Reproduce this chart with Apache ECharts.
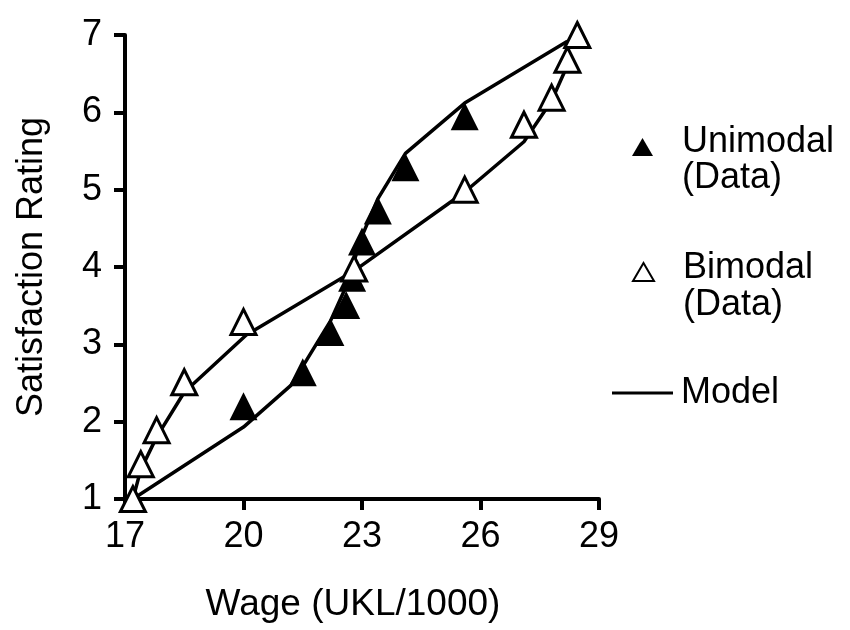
<!DOCTYPE html>
<html><head><meta charset="utf-8">
<script src="https://cdn.jsdelivr.net/npm/echarts@6/dist/echarts.min.js"></script>
<style>html,body{margin:0;padding:0;background:#fff}#c{width:850px;height:630px}</style>
</head><body><div id="c"></div>
<script>
// ---- data ----
const xTicks = [17, 20, 23, 26, 29];
const yTicks = [1, 2, 3, 4, 5, 6, 7];
const seriesNames = ['Unimodal (Data)', 'Bimodal (Data)', 'Model'];

const unimodalWage   = [17.2, 20.0, 21.5, 22.2, 22.6, 22.75, 23.0, 23.4, 24.1, 25.6, 28.45];
const unimodalRating = [1.0,  2.2,  2.64, 3.16, 3.51, 3.86,  4.33, 4.73, 5.29, 5.95, 7.0];

const bimodalWage    = [17.2, 17.4, 17.8, 18.5, 20.0, 22.8, 25.6, 27.1, 27.8, 28.2, 28.45];
const bimodalRating  = [1.0,  1.45, 1.89, 2.51, 3.29, 3.98, 5.0,  5.84, 6.19, 6.68, 7.0];

const uniModelWage   = [17.2, 20.0, 21.2, 21.6, 22.2, 22.6, 23.0, 23.4, 24.1, 25.6, 28.2];
const uniModelRating = [1.0,  1.93, 2.47, 2.8,  3.3,  3.75, 4.4,  4.88, 5.47, 6.12, 6.92];

const biModelWage    = [17.2, 17.4, 17.8, 18.5, 20.07, 22.8, 25.6, 27.1, 27.8, 28.15, 28.2];
const biModelRating  = [1.0,  1.38, 1.8,  2.38, 3.12,  3.95, 4.97, 5.62, 6.15, 6.55,  6.92];

// ---- chart ----
const FONT = '"Liberation Sans", Arial, Helvetica, sans-serif';
const zip = (a, b) => a.map((v, i) => [v, b[i]]);
const twoLine = n => '{s| }\n{a|' + n.replace(' (', '}\n{a|(') + '}';

const chart = echarts.init(document.getElementById('c'), null, { renderer: 'canvas' });
chart.setOption({
  animation: false,
  backgroundColor: '#fff',
  textStyle: { fontFamily: FONT, color: '#000' },
  grid: { left: 125, right: 251, top: 35, bottom: 131, containLabel: false },
  xAxis: {
    type: 'value', min: xTicks[0], max: xTicks[xTicks.length - 1],
    axisLine: { onZero: false, lineStyle: { color: '#000', width: 4 } },
    axisTick: { customValues: xTicks, length: 11, lineStyle: { color: '#000', width: 4 } },
    axisLabel: { customValues: xTicks, margin: 20, fontSize: 36, color: '#000', fontFamily: FONT },
    splitLine: { show: false },
    name: 'Wage (UKL/1000)', nameLocation: 'middle', nameGap: 87,
    nameTextStyle: { fontSize: 37, color: '#000', fontFamily: FONT, padding: [0, 18, 0, 0] }
  },
  yAxis: {
    type: 'value', min: yTicks[0], max: yTicks[yTicks.length - 1], interval: 1,
    axisLine: { onZero: false, lineStyle: { color: '#000', width: 4 } },
    axisTick: { length: 11, lineStyle: { color: '#000', width: 4 } },
    axisLabel: { margin: 23, fontSize: 36, color: '#000', fontFamily: FONT },
    splitLine: { show: false },
    name: 'Satisfaction Rating', nameLocation: 'middle', nameGap: 75,
    nameTextStyle: { fontSize: 36, color: '#000', fontFamily: FONT }
  },
  legend: [
    {
      data: [{ name: seriesNames[0], icon: 'triangle' }],
      left: 632, top: 106, padding: 0, itemWidth: 21, itemHeight: 18, selectedMode: false,
      formatter: twoLine,
      itemStyle: { color: '#000', borderWidth: 0 },
      textStyle: {
        fontSize: 36, color: '#000', fontFamily: FONT, padding: [0, 0, 0, 24],
        rich: {
          s: { fontSize: 10, lineHeight: 26 },
          a: { fontSize: 36, lineHeight: 36, color: '#000', fontFamily: FONT }
        }
      }
    },
    {
      data: [{ name: seriesNames[1], icon: 'triangle' }],
      left: 632, top: 230, padding: 0, itemWidth: 21, itemHeight: 18, selectedMode: false,
      formatter: twoLine,
      itemStyle: { color: '#fff', borderColor: '#000', borderWidth: 2 },
      textStyle: {
        fontSize: 36, color: '#000', fontFamily: FONT, padding: [0, 0, 0, 24],
        rich: {
          s: { fontSize: 10, lineHeight: 29 },
          a: { fontSize: 36, lineHeight: 37, color: '#000', fontFamily: FONT }
        }
      }
    },
    {
      data: [{ name: seriesNames[2], icon: 'rect' }],
      left: 612, top: 375, padding: 0, itemWidth: 61, itemHeight: 3, selectedMode: false,
      itemStyle: { color: '#000', borderWidth: 0 },
      textStyle: { fontSize: 36, color: '#000', fontFamily: FONT, padding: [0, 0, 0, 3] }
    }
  ],
  series: [
    {
      name: seriesNames[2], type: 'line', z: 1, silent: true, symbol: 'none',
      itemStyle: { color: '#000' },
      lineStyle: { color: '#000', width: 3.5 },
      data: zip(uniModelWage, uniModelRating)
    },
    {
      name: seriesNames[2], type: 'line', z: 1, silent: true, symbol: 'none',
      itemStyle: { color: '#000' },
      lineStyle: { color: '#000', width: 3.5 },
      data: zip(biModelWage, biModelRating)
    },
    {
      name: seriesNames[0], type: 'scatter', z: 3, symbol: 'triangle', symbolSize: 28,
      itemStyle: { color: '#000', opacity: 1 },
      data: zip(unimodalWage, unimodalRating)
    },
    {
      name: seriesNames[1], type: 'scatter', z: 4, symbol: 'triangle', symbolSize: 25,
      itemStyle: { color: '#fff', borderColor: '#000', borderWidth: 3, opacity: 1 },
      data: zip(bimodalWage, bimodalRating)
    }
  ]
});
</script>
</body></html>
